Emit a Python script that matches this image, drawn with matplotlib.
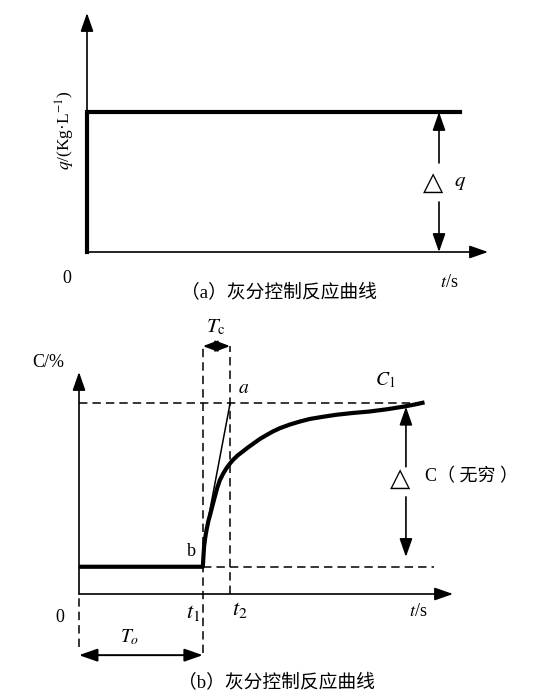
import matplotlib
matplotlib.use("Agg")
import matplotlib.pyplot as plt

plt.rcParams["font.family"] = ["Liberation Serif", "Noto Sans CJK SC", "DejaVu Sans"]
plt.rcParams["mathtext.fontset"] = "stix"

# (a) step input
t_step = [0, 0, 37.3]
q_step = [0, 1, 1]
q_arrow_t = 35.2

# (b) response curve (t, C)
t1, t2 = 10.0, 12.2
C0, C1 = 2.0, 14.0
t_curve = [0, 10.0, 10.05, 10.10, 10.19, 10.30, 10.44, 10.62, 10.79, 10.97, 11.16,
           11.37, 11.63, 11.91, 12.18, 12.44, 12.82, 13.25, 13.63, 14.06, 14.60,
           15.14, 15.65, 16.21, 17.02, 17.82, 18.63, 19.68, 20.78, 22.10, 23.47,
           24.92, 26.29, 27.10, 27.90]
C_curve = [2.0, 2.0, 2.79, 3.48, 4.12, 4.71, 5.33, 5.93, 6.54, 7.15, 7.79,
           8.35, 8.82, 9.24, 9.57, 9.85, 10.18, 10.48, 10.75, 11.03, 11.38,
           11.67, 11.93, 12.17, 12.44, 12.66, 12.85, 13.01, 13.16, 13.29, 13.40,
           13.57, 13.77, 13.91, 14.07]
tangent_t = [10.16, t2]
tangent_C = [4.19, C1]
dC_arrow_t = 26.4

W, H = 550, 692
fig = plt.figure(figsize=(W / 100, H / 100), dpi=100)

AX_LW = 1.2
DASH = dict(color="black", lw=1.1, dashes=(5.5, 3.3), clip_on=False)
FS = 13


def arrow(ax, xy, xytext, lw=AX_LW):
    ax.annotate("", xy=xy, xytext=xytext, annotation_clip=False,
                arrowprops=dict(arrowstyle="-|>,head_length=0.8,head_width=0.28",
                                mutation_scale=14, color="black", lw=lw,
                                shrinkA=0, shrinkB=0))


def bare(ax):
    for s in ax.spines.values():
        s.set_visible(False)
    ax.set_xticks([]); ax.set_yticks([])
    ax.patch.set_alpha(0)


# ---------- (a) ----------
ax1 = fig.add_axes([87 / W, (H - 252) / H, (488 - 87) / W, (252 - 13) / H])
ax1.set_xlim(0, 40.1); ax1.set_ylim(0, 1.707)
bare(ax1)
arrow(ax1, (40.1, 0), (0, 0))
arrow(ax1, (0, 1.707), (0, 0))
ax1.plot(t_step, q_step, color="black", lw=3, solid_joinstyle="miter", clip_on=False)
arrow(ax1, (q_arrow_t, q_step[-1]), (q_arrow_t, 0.636))
arrow(ax1, (q_arrow_t, 0), (q_arrow_t, 0.357))
ax1.text(34.65, 0.493, "△", family="DejaVu Sans", fontsize=19, ha="center", va="center")
ax1.text(37.3, 0.493, "$q$", fontsize=15, ha="center", va="center")
ax1.text(-2.0, -0.186, "0", fontsize=FS, ha="center", va="center")
ax1.text(36.2, -0.221, "$t$/s", fontsize=FS, ha="center", va="center")
ax1.text(19.2, -0.293, "（a）灰分控制反应曲线", fontsize=13.5, ha="center", va="center")
ax1.text(-2.2, 0.871, "$q$/(Kg·L$^{-1}$)", fontsize=12.5, ha="center", va="center", rotation=90)

# ---------- (b) ----------
ax2 = fig.add_axes([79 / W, (H - 594) / H, 374 / W, 222 / H])
ax2.set_xlim(0, 30.2); ax2.set_ylim(0, 16.3)
bare(ax2)
arrow(ax2, (30.2, 0), (0, 0))
arrow(ax2, (0, 16.3), (0, 0))

ax2.plot([0, 27.9], [C1, C1], **DASH)
ax2.plot([t1, 28.7], [C0, C0], **DASH)
ax2.plot([t1, t1], [-4.34, 18.2], **DASH)
ax2.plot([t2, t2], [0, 18.2], **DASH)
ax2.plot([0, 0], [-3.9, 0], **DASH)

ax2.plot(tangent_t, tangent_C, color="black", lw=1.1, clip_on=False)
ax2.plot(t_curve, C_curve, color="black", lw=3, solid_joinstyle="round",
         solid_capstyle="butt", clip_on=False)

ax2.annotate("", xy=(t1, 18.2), xytext=(t2, 18.2), annotation_clip=False,
             arrowprops=dict(arrowstyle="<|-|>,head_length=0.8,head_width=0.3",
                             mutation_scale=11, color="black", lw=1.4, shrinkA=0, shrinkB=0))
ax2.annotate("", xy=(0, -4.49), xytext=(t1, -4.49), annotation_clip=False,
             arrowprops=dict(arrowstyle="<|-|>,head_length=0.8,head_width=0.28",
                             mutation_scale=14, color="black", lw=1.4, shrinkA=0, shrinkB=0))

arrow(ax2, (dC_arrow_t, 13.75), (dC_arrow_t, 9.34))
arrow(ax2, (dC_arrow_t, 2.72), (dC_arrow_t, 7.13))
ax2.text(25.93, 8.46, "△", family="DejaVu Sans", fontsize=19, ha="center", va="center")
ax2.text(27.9, 8.6, "C（ 无穷 ）", fontsize=13, ha="left", va="center")

ax2.text(11.05, 19.56, "$T_{\\mathrm{c}}$", fontsize=15, ha="center", va="center")
ax2.text(13.3, 15.07, "$a$", fontsize=14, ha="center", va="center")
ax2.text(24.76, 15.7, "$C_{1}$", fontsize=14, ha="center", va="center")
ax2.text(9.11, 3.09, "b", fontsize=FS, ha="center", va="center")
ax2.text(-2.5, 17.0, "C/%", fontsize=FS, ha="center", va="center")
ax2.text(-1.53, -1.76, "0", fontsize=FS, ha="center", va="center")
ax2.text(9.19, -1.4, "$t_{1}$", fontsize=16, ha="center", va="center")
ax2.text(13.0, -1.2, "$t_{2}$", fontsize=16, ha="center", va="center")
ax2.text(27.4, -1.32, "$t$/s", fontsize=FS, ha="center", va="center")
ax2.text(4.1, -3.16, "$T_{o}$", fontsize=14, ha="center", va="center")
ax2.text(15.97, -6.54, "（b）灰分控制反应曲线", fontsize=13.5, ha="center", va="center")

fig.savefig("out.png", dpi=100)
